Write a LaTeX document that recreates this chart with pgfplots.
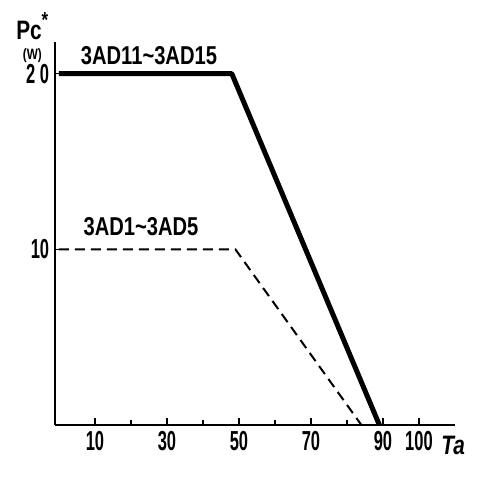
\documentclass[border=0pt]{standalone}
\usepackage{fontspec}
\setmainfont{Liberation Sans}
\newfontfamily\tickfont[FakeStretch=0.6]{Liberation Sans}
\newfontfamily\labfont[FakeStretch=0.78]{Liberation Sans}
\usepackage{pgfplots}
\pgfplotsset{compat=1.18}
\begin{document}
\begin{tikzpicture}
\begin{axis}[
  scale only axis,
  width=240pt, height=229.8pt,
  xmin=-1.1, xmax=110, ymin=0, ymax=21.8,
  axis x line=bottom, axis y line=left,
  axis line style={line width=1.6pt, -},
  xtick={10,30,50,70,90,100},
  minor xtick={20,40,60,80},
  ytick={10,20},
  yticklabels={10,\raisebox{-5pt}{2\,0}},
  tick align=inside,
  major tick length=4pt, minor tick length=3pt,
  tick style={line width=0.8pt, black},
  /pgf/number format/assume math mode=true,
  xticklabel style={font=\tickfont\bfseries\fontsize{16.5}{18}\selectfont},
  yticklabel style={font=\tickfont\bfseries\fontsize{16.5}{18}\selectfont},
  clip=false,
]
\addplot[black, line width=3pt, line join=round] coordinates {(0,20) (48,20) (89,0)};
\addplot[black, line width=1.2pt, dash pattern=on 6pt off 3.6pt] coordinates {(0,10) (49,10) (84,0)};
\node[font=\labfont\bfseries\fontsize{15.5}{18}\selectfont] at (axis cs:25,21.0) {3AD11\textasciitilde 3AD15};
\node[font=\labfont\bfseries\fontsize{15.5}{18}\selectfont] at (axis cs:22.8,11.3) {3AD1\textasciitilde 3AD5};
\node[font=\labfont\bfseries\fontsize{16}{18}\selectfont, anchor=base] at (axis cs:-7.4,21.95) {Pc\raisebox{0.45em}{\fontsize{13}{14}\selectfont *}};
\node[font=\labfont\bfseries\fontsize{9}{10}\selectfont, inner sep=0pt] at (axis cs:-7.4,21.05) {(W)};
\node[font=\labfont\bfseries\itshape\fontsize{16}{18}\selectfont, anchor=north] at (axis cs:109.5,-0.3) {Ta};
\end{axis}
\path (current axis.south west) ++(-33pt,-34.8pt) rectangle ++(293.4pt,289.8pt);
\end{tikzpicture}
\end{document}
